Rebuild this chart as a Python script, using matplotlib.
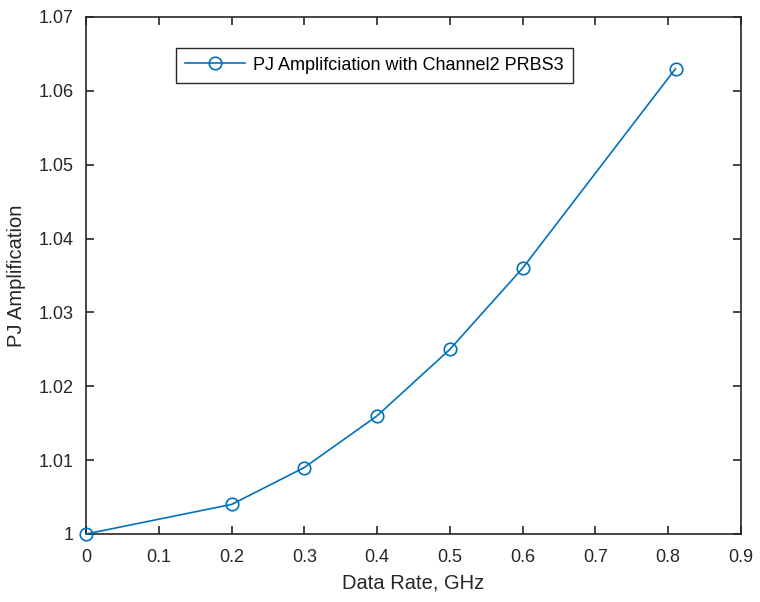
import matplotlib
matplotlib.use("Agg")
import matplotlib.pyplot as plt

# data
data_rate = [0.0, 0.2, 0.3, 0.4, 0.5, 0.6, 0.81]
pj_amp = [1.000, 1.004, 1.009, 1.016, 1.025, 1.036, 1.063]

x_ticks = [0, 0.1, 0.2, 0.3, 0.4, 0.5, 0.6, 0.7, 0.8, 0.9]
x_labels = ["0", "0.1", "0.2", "0.3", "0.4", "0.5", "0.6", "0.7", "0.8", "0.9"]
y_ticks = [1.00, 1.01, 1.02, 1.03, 1.04, 1.05, 1.06, 1.07]
y_labels = ["1", "1.01", "1.02", "1.03", "1.04", "1.05", "1.06", "1.07"]

plt.rcParams["font.family"] = ["Liberation Sans", "DejaVu Sans"]

fig = plt.figure(figsize=(7.6, 6.02), dpi=100)
ax = fig.add_axes([0.1132, 0.113, 0.8618, 0.8588])

ax.plot(data_rate, pj_amp, color="#0072BD", linewidth=1.2, marker="o",
        markersize=9, markerfacecolor="none", markeredgecolor="#0072BD",
        markeredgewidth=1.2, label="PJ Amplifciation with Channel2 PRBS3",
        clip_on=False, zorder=3)

ax.set_xlim(0, 0.9)
ax.set_ylim(1.0, 1.07)
ax.set_xticks(x_ticks)
ax.set_xticklabels(x_labels)
ax.set_yticks(y_ticks)
ax.set_yticklabels(y_labels)

ax.tick_params(direction="in", top=True, right=True, length=6, width=1.2,
               labelsize=13, colors="#262626")
ax.tick_params(axis="x", pad=11)
ax.tick_params(axis="y", pad=9)
for s in ax.spines.values():
    s.set_linewidth(1.2)
    s.set_color("#262626")

ax.set_xlabel("Data Rate, GHz", fontsize=14.5, color="#262626", labelpad=5)
ax.set_ylabel("PJ Amplification", fontsize=14.5, color="#262626", labelpad=9)

leg = ax.legend(loc="upper left", bbox_to_anchor=(0.124, 0.958), fontsize=13,
                fancybox=False, edgecolor="#262626", framealpha=1,
                handlelength=3.3, handletextpad=0.45, borderpad=0.5)
leg.get_frame().set_linewidth(1.0)

fig.savefig("out.png", dpi=100)
